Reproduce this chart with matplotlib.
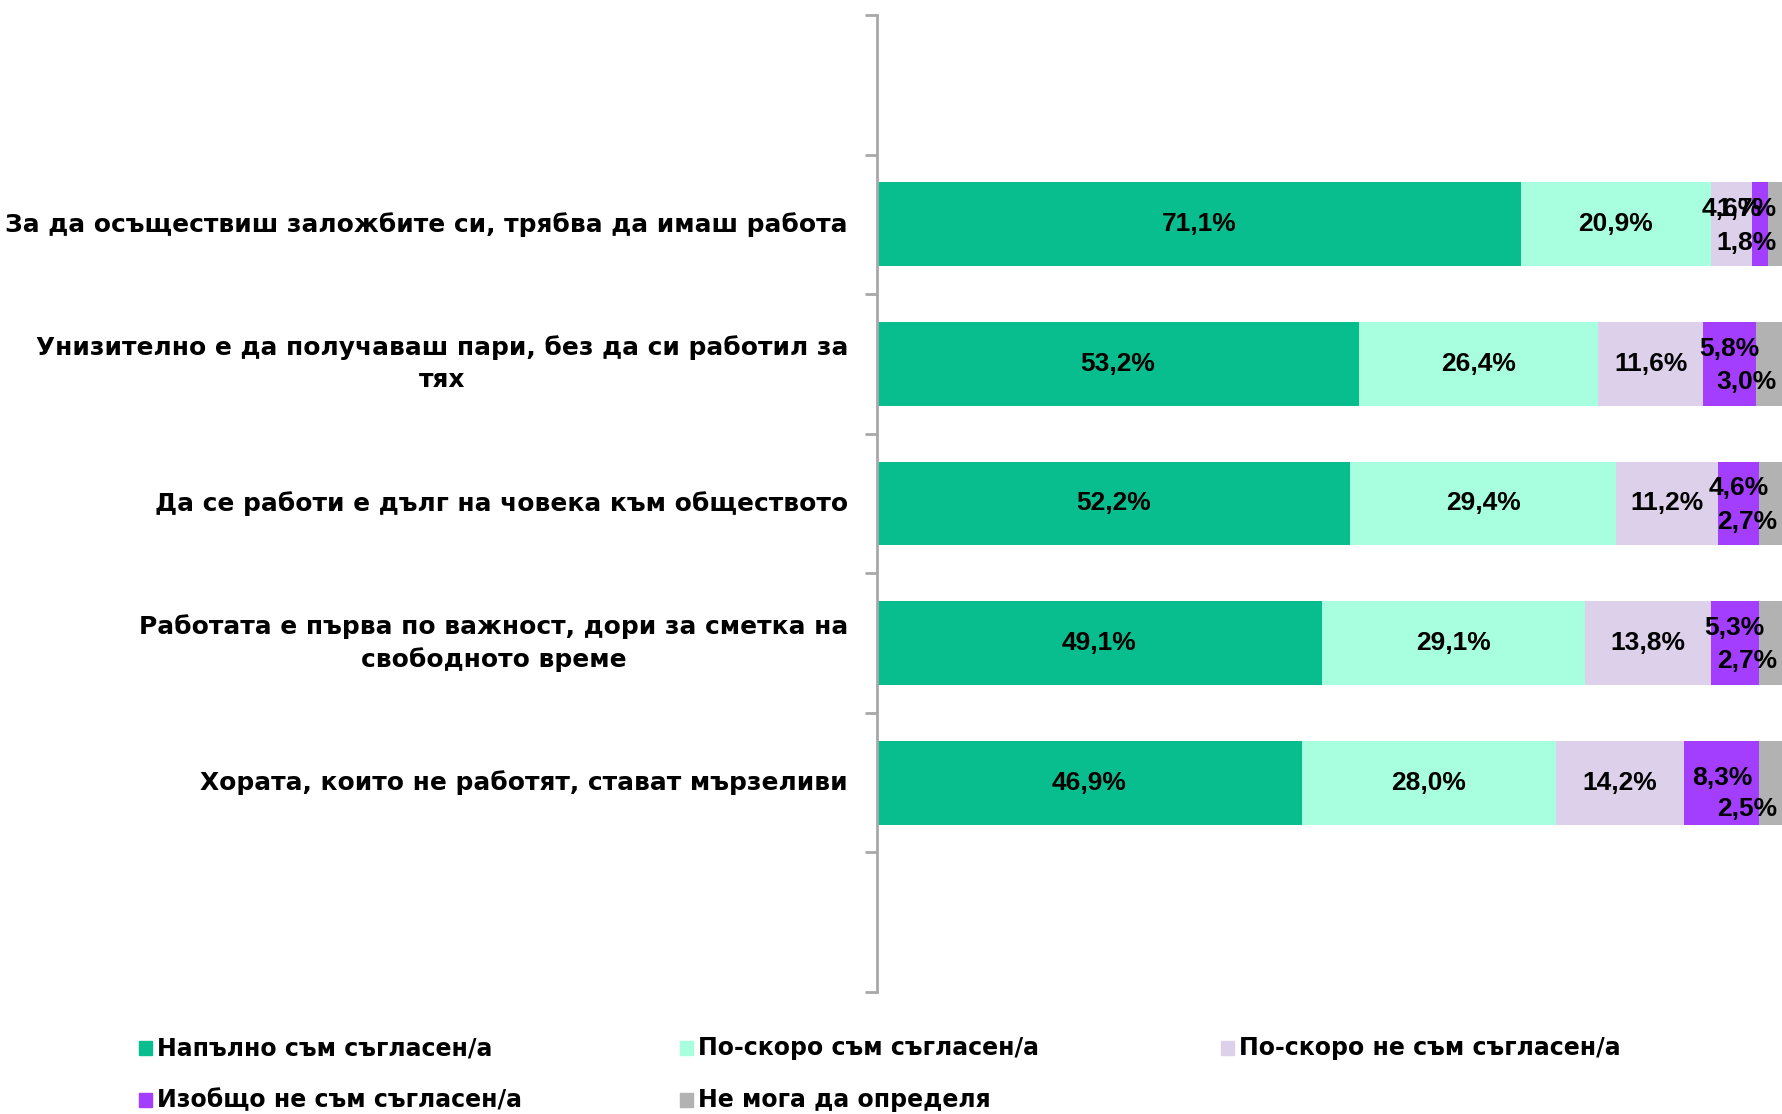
import matplotlib.pyplot as plt
from matplotlib.patches import Rectangle
from matplotlib.transforms import blended_transform_factory
import numpy as np

plt.rcParams['font.family'] = ['Liberation Sans', 'DejaVu Sans']
plt.rcParams['font.weight'] = 'bold'

statements = [
    '',
    'За да осъществиш заложбите си, трябва да имаш работа',
    'Унизително е да получаваш пари, без да си работил за\nтях',
    'Да се работи е дълг на човека към обществото',
    'Работата е първа по важност, дори за сметка на\nсвободното време',
    'Хората, които не работят, стават мързеливи',
    '',
]
series = ['Напълно съм съгласен/а', 'По-скоро съм съгласен/а',
          'По-скоро не съм съгласен/а', 'Изобщо не съм съгласен/а',
          'Не мога да определя']
fully_agree = [np.nan, 71.1, 53.2, 52.2, 49.1, 46.9, np.nan]
rather_agree = [np.nan, 20.9, 26.4, 29.4, 29.1, 28.0, np.nan]
rather_disagree = [np.nan, 4.6, 11.6, 11.2, 13.8, 14.2, np.nan]
fully_disagree = [np.nan, 1.7, 5.8, 4.6, 5.3, 8.3, np.nan]
cant_say = [np.nan, 1.8, 3.0, 2.7, 2.7, 2.5, np.nan]

colors = ['#09BE8E', '#A8FFDF', '#DDD0EA', '#A43EFF', '#B2B2B2']

fig = plt.figure(figsize=(17.83, 11.14), dpi=100)
ax = fig.add_axes([877 / 1783, 1 - 992 / 1114, 906 / 1783, (992 - 15) / 1114])

y = np.arange(len(statements))
data = [fully_agree, rather_agree, rather_disagree, fully_disagree, cant_say]
left = np.zeros(len(statements))
prev = None
for vals, col, name in zip(data, colors, series):
    v = np.nan_to_num(np.array(vals, dtype=float))
    ax.barh(y, v, left=left, height=0.6, color=col, label=name, edgecolor='none')
    for i, val in enumerate(vals):
        if np.isnan(val):
            continue
        cx = left[i] + val / 2
        txt = f'{val:.1f}%'.replace('.', ',')
        if col == colors[-1]:
            # last small label pushed below, more if the one before sits centred
            dy = 0.19 if prev[i] >= 6 else 0.13
            ax.text(min(cx, 96.0), i + dy, txt, ha='center', va='center', fontsize=19)
        elif val >= 6:
            ax.text(cx, i - (0.03 if col == colors[3] else 0), txt,
                    ha='center', va='center', fontsize=19)
        else:
            ax.text(min(cx, 96.0), i - 0.11, txt, ha='center', va='center', fontsize=19)
    left += v
    prev = vals

ax.set_xlim(0, 100)
ax.set_ylim(len(statements) - 0.5, -0.5)
ax.set_xticks([])
ax.set_yticks(np.arange(len(statements) + 1) - 0.5)
ax.set_yticklabels([])
ax.tick_params(axis='y', length=9, width=2, color='#A8A8A8', direction='out')
for s in ['top', 'right', 'bottom']:
    ax.spines[s].set_visible(False)
ax.spines['left'].set_color('#A8A8A8')
ax.spines['left'].set_linewidth(2)

tr = blended_transform_factory(fig.transFigure, ax.transData)
for i, lab in enumerate(statements):
    if lab:
        fig.text(848 / 1783, i, lab, ha='right', va='center', multialignment='center',
                 fontsize=17.9, linespacing=1.42, transform=tr, family='DejaVu Sans')

# legend, 3 columns
leg_x = [139, 680, 1221]
leg_y = [1048, 1100]
for k, (name, col) in enumerate(zip(series, colors)):
    px = leg_x[k % 3]
    py = leg_y[k // 3]
    fig.patches.append(Rectangle((px / 1783, 1 - (py + 7) / 1114), 13 / 1783, 14 / 1114,
                                 transform=fig.transFigure, color=col, figure=fig))
    fig.text((px + 18) / 1783, 1 - py / 1114, name, ha='left', va='center', fontsize=17,
             family='DejaVu Sans')

fig.savefig('out.png', dpi=100)
